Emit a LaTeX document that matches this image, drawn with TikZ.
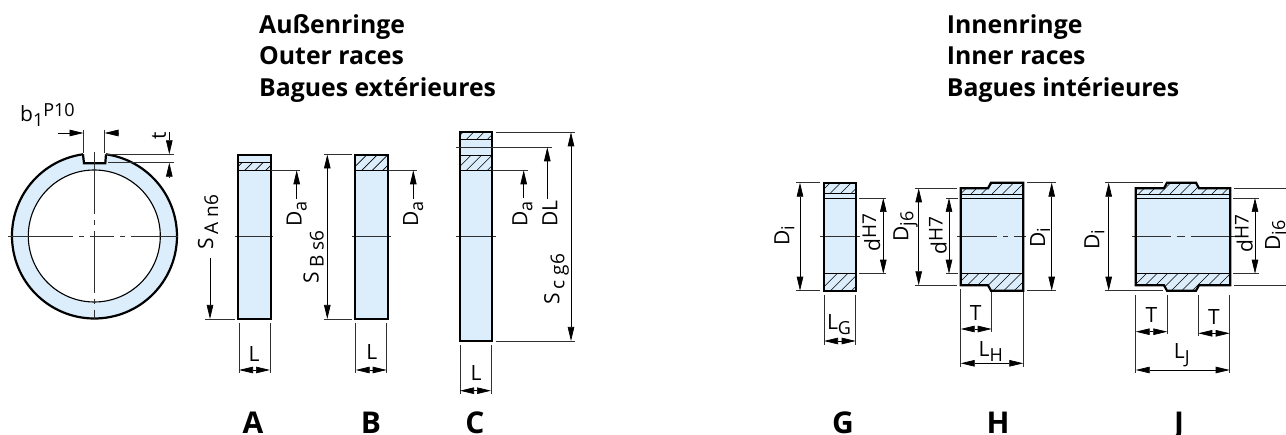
\documentclass[tikz,border=0pt]{standalone}
\usepackage{fontspec}
\setmainfont{Open Sans}
\usetikzlibrary{arrows.meta}
\definecolor{ringblue}{HTML}{DCEEFB}
\definecolor{thin}{HTML}{303030}
\tikzset{
  x=1pt,y=-1pt,
  body/.style={fill=ringblue,draw=none},
  outline/.style={draw=black,line width=2.2pt,line join=miter},
  fine/.style={draw=black,line width=.8pt},
  hatchline/.style={draw=black,line width=.6pt},
  axis/.style={draw=thin,line width=.7pt},
  ext/.style={draw=thin,line width=.7pt},
  dimline/.style={draw=black,line width=.7pt},
  both/.style={dimline,{Triangle[length=14pt,width=6.5pt]}-{Triangle[length=14pt,width=6.5pt]}},
  tipend/.style={dimline,-{Triangle[length=14pt,width=6.5pt]}},
  head/.style={font=\fontsize{24.8}{31.5}\selectfont\bfseries,align=left,anchor=north west,inner sep=0pt},
  letter/.style={font=\fontsize{30}{30}\selectfont\bfseries,anchor=base,inner sep=0pt},
  lab/.style={font=\fontsize{21}{21}\selectfont,inner sep=0pt},
  vlab/.style={lab,rotate=90,anchor=base west},
}
\newcommand{\hatchfill}[4]{% x1 y1 x2 y2
  \begin{scope}
    \clip (#1,#2) rectangle (#3,#4);
    \foreach \k in {0,...,14}{
      \draw[hatchline] ({#1+\k*10.5-4},{#4}) -- ++(40,-40);
    }
  \end{scope}}
\newcommand{\sub}[1]{\raisebox{-5pt}{\fontsize{18}{18}\selectfont #1}}
\newcommand{\sups}[1]{\raisebox{4pt}{\fontsize{19}{19}\selectfont #1}}
\newcommand{\ssub}[1]{\hspace{4pt}\raisebox{-5pt}{\fontsize{19}{19}\selectfont #1}}
\begin{document}
\begin{tikzpicture}
\useasboundingbox (0,0) rectangle (1286,435);
\fill[white] (0,0) rectangle (1286,435);
% headers
\node[head] (hOuter) at (259,14) {Außenringe\\Outer races\\Bagues extérieures};
\node[head] (hInner) at (946.7,14) {Innenringe\\Inner races\\Bagues intérieures};
% ---- circle
\fill[ringblue,even odd rule] (94.3,236) circle (82.5) (94.3,236) circle (66);
\draw[fine,line width=1.1pt] (94.3,236) circle (66);
\fill[white] (83.5,150) rectangle (105.3,163.3);
\draw[outline] (106,154.3) -- (105.3,163.3) -- (84,163.3) -- (83,154.3);
\draw[outline] (83,154.3) arc[start angle=262,end angle=-82,radius=82.5];
\draw[axis,dash pattern=on 62pt off 6pt on 5pt off 6pt on 62pt off 6pt on 5pt off 6pt on 70pt] (94.3,151.7) -- (94.3,319);
\draw[axis,dash pattern=on 65pt off 6pt on 5pt off 6pt on 24pt off 6pt on 5pt off 6pt on 70pt] (8,236) -- (178,236);
% b1
\draw[ext] (83.5,130) -- (83.5,153) (104.5,130) -- (104.5,153);
\draw[tipend] (57.5,133) -- (83.5,133);
\draw[tipend] (119,133) -- (104.5,133);
\node[lab,anchor=base west] (b1) at (20,122) {b\sub{1}\raisebox{5pt}{\fontsize{18}{18}\selectfont P10}};
% t
\draw[ext] (105,154.3) -- (174,154.3) (108,162.7) -- (174,162.7);
\draw[tipend] (169.3,131.7) -- (169.3,154.3);
\draw[tipend] (169.3,177.7) -- (169.3,162.7);
\node[lab,rotate=90] (t) at (159,136) {t};
% S A n6
\draw[ext] (205,319) -- (235,319);
\draw[tipend] (210,258) -- (210,319);
\node[vlab] (SA) at (213,250) {S\ssub{A n6}};
% ---- ring A
\fill[body] (238.3,154.7) rectangle (270.7,319);
\hatchfill{238.3}{162.7}{270.7}{170.3}
\draw[fine] (238.3,162.7) -- (270.7,162.7);
\draw[fine] (238.3,170.3) -- (270.7,170.3);
\draw[axis] (235,236.7) -- (273,236.7);
\draw[outline] (238.3,154.7) rectangle (270.7,319);
\draw[ext] (270.7,170.3) -- (300,170.3);
\draw[tipend] (296.7,199) -- (296.7,170.3);
\node[vlab] (DaA) at (301.7,226.7) {D\sub{a}};
\draw[ext] (239,322.7) -- (239,373) (270,322.7) -- (270,373);
\draw[both] (239,370) -- (270,370);
\node[lab] (LA) at (254,354) {L};
\node[letter] (A) at (253,433.5) {A};
% ---- ring B
\fill[body] (355.3,154.7) rectangle (387.7,319);
\hatchfill{355.3}{154.7}{387.7}{170.3}
\draw[fine] (355.3,170.3) -- (387.7,170.3);
\draw[axis] (352,236.7) -- (390.7,236.7);
\draw[outline] (355.3,154.7) rectangle (387.7,319);
\draw[ext] (387.7,170.3) -- (416.7,170.3);
\draw[tipend] (413.3,199) -- (413.3,170.3);
\node[vlab] (DaB) at (418,226.7) {D\sub{a}};
\draw[ext] (324,154.5) -- (352,154.5) (324,319) -- (352,319);
\draw[both] (327.3,154.5) -- (327.3,319);
\node[vlab] (SB) at (318.7,283.3) {S\ssub{B s6}};
\draw[ext] (355.7,322.7) -- (355.7,373) (386.7,322.7) -- (386.7,373);
\draw[both] (355.7,370) -- (386.7,370);
\node[lab] (LB) at (371.7,352) {L};
\node[letter] (B) at (371,433.5) {B};
% ---- ring C
\fill[body] (460,132.3) rectangle (491.7,341);
\hatchfill{460}{132.3}{491.7}{139.3}
\hatchfill{460}{155.7}{491.7}{170.3}
\draw[fine,line width=1pt] (460,139.3) -- (491.7,139.3);
\draw[fine] (460,155.7) -- (491.7,155.7);
\draw[fine] (460,170.3) -- (491.7,170.3);
\draw[axis] (456,236.7) -- (495.7,236.7);
\draw[outline] (460,132.3) rectangle (491.7,341);
\draw[ext] (456,147.3) -- (551.7,147.3);
\draw[ext] (491.7,170.3) -- (527.7,170.3);
\draw[tipend] (523.7,198) -- (523.7,170.3);
\node[vlab] (DaC) at (527.3,227) {D\sub{a}};
\draw[tipend] (547.3,198.7) -- (547.3,147.3);
\node[vlab] (DL) at (557.3,227) {DL};
\draw[ext] (495.7,132.3) -- (575,132.3) (495.7,341) -- (575,341);
\draw[both] (571,132.3) -- (571,341);
\node[vlab] (SC) at (559.3,305) {S\ssub{c g6}};
\draw[ext] (460,345) -- (460,394) (491,345) -- (491,394);
\draw[both] (460,390.7) -- (491,390.7);
\node[lab] (LC) at (476,372.7) {L};
\node[letter] (C) at (475,433.5) {C};
% ---- ring G
\fill[body] (824,182.7) rectangle (856,290.7);
\hatchfill{824}{182.7}{856}{193}
\hatchfill{824}{273.7}{856}{290.7}
\draw[fine] (824,193) -- (856,193) (824,198) -- (856,198) (824,273.7) -- (856,273.7);
\draw[axis] (820,236.7) -- (860,236.7);
\draw[outline] (824,182.7) rectangle (856,290.7);
\draw[ext] (796,182.7) -- (820,182.7) (796,290.7) -- (820,290.7);
\draw[both] (800,182.7) -- (800,290.7);
\node[vlab] (DiG) at (789.3,246) {D\sub{i}};
\draw[ext] (859,198) -- (886,198) (859,273.7) -- (886,273.7);
\draw[both] (883.3,198) -- (883.3,273.7);
\node[vlab] (dG) at (880,252) {d\sups{H7}};
\draw[ext] (824,295) -- (824,345) (855.7,295) -- (855.7,345);
\draw[both] (824,341) -- (855.7,341);
\node[lab] (LG) at (839,325) {L\sub{G}};
\node[letter] (G) at (843,433.5) {G};
% ---- ring H
\path[body] (960.7,188.3) -- (988,188.3) -- (991,182.7) -- (1023.3,182.7) -- (1023.3,290.7) -- (991,290.7) -- (988,285.3) -- (960.7,285.3) -- cycle;
\begin{scope}
  \clip (960.7,188.3) -- (988,188.3) -- (991,182.7) -- (1023.3,182.7) -- (1023.3,194) -- (960.7,194) -- cycle;
  \foreach \k in {0,...,9}{\draw[hatchline] ({950+\k*10.5},194) -- ++(20,-20);}
\end{scope}
\begin{scope}
  \clip (960.7,273.7) -- (1023.3,273.7) -- (1023.3,290.7) -- (991,290.7) -- (988,285.3) -- (960.7,285.3) -- cycle;
  \foreach \k in {0,...,9}{\draw[hatchline] ({950+\k*10.5},292) -- ++(24,-24);}
\end{scope}
\draw[fine] (960.7,194) -- (1023.3,194) (960.7,198) -- (1023.3,198) (960.7,273.7) -- (1023.3,273.7);
\draw[axis,dash pattern=on 40pt off 6pt on 5pt off 6pt on 12pt] (957,236.7) -- (1026.7,236.7);
\draw[outline] (960.7,188.3) -- (988,188.3) -- (991,182.7) -- (1023.3,182.7) -- (1023.3,290.7) -- (991,290.7) -- (988,285.3) -- (960.7,285.3) -- cycle;
\draw[ext] (915,188.3) -- (956.7,188.3) (915,285.3) -- (956.7,285.3);
\draw[both] (918.7,188.3) -- (918.7,285.3);
\node[vlab] (DjH) at (908.3,241.7) {D\sub{j6}};
\draw[ext] (946,198) -- (958,198) (946,273.7) -- (958,273.7);
\draw[both] (949,198) -- (949,273.7);
\node[vlab] (dH) at (946.7,255) {d\sups{H7}};
\draw[ext] (1027,182.7) -- (1056,182.7) (1027,290.7) -- (1056,290.7);
\draw[both] (1051.7,182.7) -- (1051.7,290.7);
\node[vlab] (DiH) at (1045,248) {D\sub{i}};
\draw[ext] (960.7,289) -- (960.7,366.7) (991.7,292) -- (991.7,331.7) (1023.3,292) -- (1023.3,366.7);
\draw[both] (960.7,329) -- (991.7,329);
\node[lab] (TH) at (975.7,312.7) {T};
\draw[both] (960.7,363.3) -- (1023.3,363.3);
\node[lab] (LH) at (990.7,352) {L\sub{H}};
\node[letter] (H) at (998,434) {H};
% ---- ring J
\path[body] (1135.7,188.3) -- (1164,188.3) -- (1167,182.7) -- (1196,182.7) -- (1199,188.3) -- (1230.3,188.3) -- (1230.3,285.3) -- (1199,285.3) -- (1196,290.7) -- (1167,290.7) -- (1164,285.3) -- (1135.7,285.3) -- cycle;
\begin{scope}
  \clip (1135.7,188.3) -- (1164,188.3) -- (1167,182.7) -- (1196,182.7) -- (1199,188.3) -- (1230.3,188.3) -- (1230.3,194) -- (1135.7,194) -- cycle;
  \foreach \k in {0,...,10}{\draw[hatchline] ({1128+\k*10.5},194) -- ++(20,-20);}
\end{scope}
\begin{scope}
  \clip (1135.7,273.7) -- (1230.3,273.7) -- (1230.3,285.3) -- (1199,285.3) -- (1196,290.7) -- (1167,290.7) -- (1164,285.3) -- (1135.7,285.3) -- cycle;
  \foreach \k in {0,...,10}{\draw[hatchline] ({1128+\k*10.5},292) -- ++(24,-24);}
\end{scope}
\draw[fine] (1135.7,194) -- (1230.3,194) (1135.7,198) -- (1230.3,198) (1135.7,273.7) -- (1230.3,273.7);
\draw[axis,dash pattern=on 39pt off 6pt on 8pt off 6pt on 45pt] (1132.3,236.7) -- (1235,236.7);
\draw[outline] (1135.7,188.3) -- (1164,188.3) -- (1167,182.7) -- (1196,182.7) -- (1199,188.3) -- (1230.3,188.3) -- (1230.3,285.3) -- (1199,285.3) -- (1196,290.7) -- (1167,290.7) -- (1164,285.3) -- (1135.7,285.3) -- cycle;
\draw[ext] (1105,182.7) -- (1162.7,182.7) (1105,290.7) -- (1162.7,290.7);
\draw[both] (1108.7,182.7) -- (1108.7,290.7);
\node[vlab] (DiJ) at (1099.3,250) {D\sub{i}};
\draw[ext] (1233,198) -- (1259,198) (1233,273.7) -- (1259,273.7);
\draw[both] (1255,198) -- (1255,273.7);
\node[vlab] (dJ) at (1252.7,253) {d\sups{H7}};
\draw[ext] (1234,188.3) -- (1286,188.3) (1234,285.3) -- (1286,285.3);
\node[vlab] (DjJ) at (1280,250.7) {D\sub{j6}};
\draw[ext] (1135.7,295) -- (1135.7,373) (1167.3,295) -- (1167.3,334) (1198.3,295) -- (1198.3,336) (1229.7,295) -- (1229.7,373);
\draw[both] (1135.7,331.7) -- (1167.3,331.7);
\draw[both] (1198.3,333.3) -- (1229.7,333.3);
\node[lab] (TJa) at (1151.3,315) {T};
\node[lab] (TJb) at (1214,316.7) {T};
\draw[both] (1135.7,370) -- (1229.7,370);
\node[lab] (LJ) at (1181.7,355) {L\sub{J}};
\node[letter] (J) at (1179,433.5) {J};
\end{tikzpicture}
\end{document}
